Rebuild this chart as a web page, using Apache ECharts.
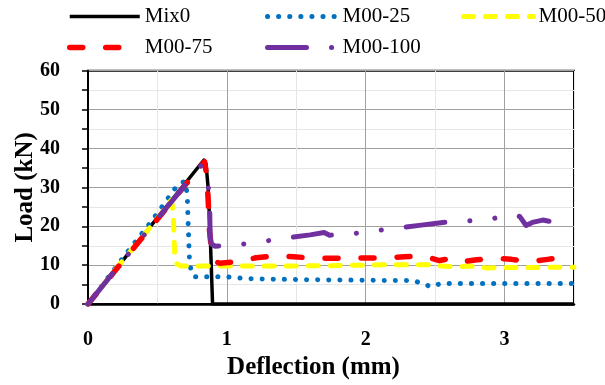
<!DOCTYPE html>
<html>
<head>
<meta charset="utf-8">
<script src="https://cdn.jsdelivr.net/npm/echarts@6/dist/echarts.min.js"></script>
<style>html,body{margin:0;padding:0;background:#fff}#c{width:605px;height:385px}</style>
</head>
<body>
<div id="c"></div>
<script>
// ---- data (deflection mm, load kN) ----
const seriesNames = ['Mix0', 'M00-25', 'M00-50', 'M00-75', 'M00-100'];
const xTickLabels = [0, 1, 2, 3];
const yTickLabels = [0, 10, 20, 30, 40, 50, 60];

const mix0X = [0, 0.2, 0.4, 0.6, 0.8, 0.835, 0.85, 0.865, 0.88, 0.897, 3.5];
const mix0Y = [0, 9.0, 17.8, 26.6, 35.5, 37.0, 36.0, 30.0, 18.0, 0, 0];

const m25X = [0, 0.24, 0.33, 0.43, 0.52, 0.565, 0.61, 0.66, 0.70, 0.715, 0.72, 0.725, 0.73, 0.74, 0.765, 0.85, 1.0, 1.09, 1.2, 1.5, 1.8, 2.1, 2.34, 2.41, 2.47, 2.54, 2.8, 3.2, 3.5];
const m25Y = [0, 11.3, 15.5, 20.0, 24.4, 26.6, 29.0, 31.1, 31.5, 28.0, 22.0, 17.0, 12.0, 9.0, 7.0, 7.0, 7.0, 6.7, 6.5, 6.3, 6.2, 6.1, 6.05, 5.3, 4.45, 5.3, 5.3, 5.3, 5.3];

const m50X = [0, 0.2, 0.4, 0.55, 0.60, 0.608, 0.615, 0.62, 0.625, 0.64, 0.67, 0.9, 1.2, 1.5, 1.8, 2.1, 2.3, 2.5, 2.56, 2.66, 2.75, 2.87, 3.0, 3.2, 3.5];
const m50Y = [0, 9.0, 17.6, 24.3, 26.8, 25.0, 22.0, 17.0, 12.0, 10.3, 9.8, 9.8, 9.8, 9.8, 9.9, 10.1, 10.1, 10.1, 9.7, 9.6, 9.8, 9.3, 9.4, 9.4, 9.5];

const m75X = [0, 0.2, 0.4, 0.6, 0.8, 0.84, 0.855, 0.865, 0.875, 0.89, 0.91, 0.95, 1.07, 1.21, 1.34, 1.48, 1.61, 1.88, 2.15, 2.28, 2.41, 2.53, 2.59, 2.66, 2.80, 2.93, 3.05, 3.18, 3.31, 3.44, 3.5];
const m75Y = [0, 8.8, 17.5, 26.2, 35.0, 36.6, 33.0, 27.0, 19.0, 13.5, 11.0, 10.5, 10.9, 11.9, 12.4, 12.2, 11.8, 11.8, 11.9, 12.2, 12.4, 11.2, 11.6, 10.7, 11.4, 11.8, 11.5, 10.9, 11.5, 12.2, 12.4];

const m100X = [0, 0.2, 0.4, 0.6, 0.817, 0.865, 0.876, 0.88, 0.888, 0.914, 1.09, 1.26, 1.43, 1.60, 1.70, 1.74, 1.91, 2.08, 2.245, 2.4, 2.556, 2.72, 2.90, 3.07, 3.11, 3.155, 3.20, 3.275, 3.32];
const m100Y = [0, 8.9, 17.6, 26.3, 35.7, 31.1, 24.8, 17.2, 15.5, 14.9, 15.3, 16.1, 17.0, 17.8, 18.4, 17.7, 18.1, 18.9, 19.6, 20.3, 21.0, 21.3, 21.9, 23.0, 22.5, 20.2, 21.0, 21.6, 21.3];

// ---- build ----
const zip = (xs, ys) => xs.map((x, i) => [x, ys[i]]);
const FONT = '"Liberation Serif", "Times New Roman", serif';

const styles = [
  { color: '#000000', width: 3.5, type: 'solid', cap: 'butt' },
  { color: '#0070c0', width: 5, type: [0.1, 11], cap: 'round' },
  { color: '#ffff00', width: 5, type: [10, 12], cap: 'round' },
  { color: '#ff0000', width: 5.5, type: [13, 23], cap: 'round' },
  { color: '#7030a0', width: 5, type: [39, 25, 0.1, 25, 0.1, 25], cap: 'round' }
];
const datas = [zip(mix0X, mix0Y), zip(m25X, m25Y), zip(m50X, m50Y), zip(m75X, m75Y), zip(m100X, m100Y)];

const series = seriesNames.map((n, i) => ({
  name: n,
  type: 'line',
  data: datas[i],
  symbol: 'none',
  showSymbol: false,
  smooth: false,
  animation: false,
  color: styles[i].color,
  lineStyle: { color: styles[i].color, width: styles[i].width, type: styles[i].type, cap: styles[i].cap, join: 'round' }
}));

const legendPos = [[68, 6], [265, 6], [461, 6], [67, 37], [265, 37]];
const legend = seriesNames.map((n, i) => ({
  data: [n],
  left: legendPos[i][0],
  top: legendPos[i][1],
  padding: 0,
  itemWidth: 70,
  itemHeight: 12,
  itemStyle: { color: 'rgba(0,0,0,0)', borderColor: 'rgba(0,0,0,0)', borderWidth: 0, opacity: 0 },
  lineStyle: { color: styles[i].color, width: styles[i].width, type: styles[i].type, cap: styles[i].cap },
  textStyle: { fontFamily: FONT, fontSize: 21, color: '#000' }
}));

const chart = echarts.init(document.getElementById('c'), null, { renderer: 'canvas' });
chart.setOption({
  backgroundColor: '#fff',
  animation: false,
  legend: legend,
  grid: { left: 88, right: 31, top: 70.7, bottom: 76.7, show: true, borderColor: '#000', borderWidth: 2, backgroundColor: 'transparent' },
  xAxis: {
    type: 'value', min: 0, max: 3.5, interval: 0.5,
    name: 'Deflection (mm)', nameLocation: 'middle', nameGap: 43,
    nameTextStyle: { fontFamily: FONT, fontSize: 25, fontWeight: 'bold', color: '#000', padding: [0, 35, 0, 0] },
    axisLine: { show: true, lineStyle: { color: '#000', width: 2.5 } },
    axisTick: { show: false },
    axisLabel: { margin: 26, fontFamily: FONT, fontSize: 20, fontWeight: 'bold', color: '#000',
      formatter: v => (xTickLabels.indexOf(v) >= 0 ? String(v) : '') },
    splitLine: { show: true, lineStyle: { color: ['#a0a0a0', '#e6e6e6'], width: 1 } }
  },
  yAxis: {
    type: 'value', min: 0, max: 60, interval: 5,
    name: 'Load (kN)', nameLocation: 'middle', nameGap: 50, nameRotate: 90, nameMoveOverlap: false,
    nameTextStyle: { fontFamily: FONT, fontSize: 25, fontWeight: 'bold', color: '#000' },
    axisLine: { show: true, lineStyle: { color: '#000', width: 2 } },
    axisTick: { show: true, inside: false, length: 6, lineStyle: { color: '#000', width: 1.5 } },
    axisLabel: { margin: 28, fontFamily: FONT, fontSize: 20, fontWeight: 'bold', color: '#000',
      formatter: v => (yTickLabels.indexOf(v) >= 0 ? String(v) : '') },
    splitLine: { show: true, lineStyle: { color: ['#a0a0a0', '#e6e6e6'], width: 1 } }
  },
  series: series
});
</script>
</body>
</html>
